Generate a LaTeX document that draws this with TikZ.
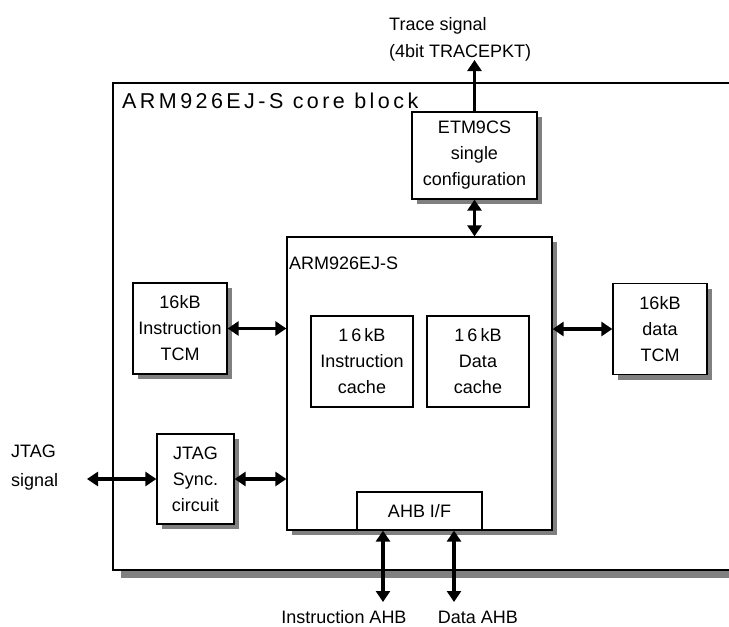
\documentclass[tikz,border=0pt]{standalone}
\usepackage{fontspec}
\setmainfont{Liberation Sans}
\usetikzlibrary{arrows.meta,shadows}

\begin{document}
\begin{tikzpicture}[x=1pt,y=-1pt,>={Triangle[length=11pt,width=14pt]},
    box/.style={draw,line width=1.3pt,fill=white,align=center,inner sep=0pt,
      font=\fontsize{18}{26}\selectfont},
    sbox/.style={box,drop shadow={shadow xshift=5pt,shadow yshift=-5pt,opacity=1,fill=black!50}},
    sig/.style={line width=3.2pt},
    lbl/.style={font=\fontsize{18}{27}\selectfont,inner sep=0pt}]
  \useasboundingbox (0,0) rectangle (729,627);
  \clip (0,0) rectangle (729,627);
  % the core block, open to the right
  \node[box,line width=1.8pt,minimum width=650pt,minimum height=487pt,
    drop shadow={shadow xshift=8pt,shadow yshift=-8pt,opacity=1,fill=black!50}] (core) at (438,326.5) {};
  \node[anchor=west,inner sep=0pt,font=\fontsize{21.5}{24}\selectfont\addfontfeature{LetterSpace=16}] (title) at (122,101) {ARM926EJ-S core block};
  % processor with its caches and bus interface
  \node[sbox,minimum width=265pt,minimum height=293pt] (arm) at (419.5,383.5) {};
  \node[lbl,anchor=west] (armlbl) at (289,263) {ARM926EJ-S};
  \node[box,minimum width=102pt,minimum height=91pt] (icache) at (362,361.5) {1\kern3pt 6\kern3pt kB\\Instruction\\cache};
  \node[box,minimum width=102pt,minimum height=91pt] (dcache) at (478,361.5) {1\kern3pt 6\kern3pt kB\\Data\\cache};
  \node[box,minimum width=125pt,minimum height=38pt] (ahb) at (419.5,511) {AHB I/F};
  % blocks round it
  \node[sbox,minimum width=125pt,minimum height=87pt] (etm) at (474.5,155.5) {ETM9CS\\single\\configuration};
  \node[sbox,minimum width=94pt,minimum height=91pt] (itcm) at (180,328.5) {16kB\\Instruction\\TCM};
  \node[sbox,minimum width=94pt,minimum height=91pt] (dtcm) at (660,329) {16kB\\data\\TCM};
  \node[sbox,minimum width=77pt,minimum height=90pt] (jtag) at (195.5,479) {JTAG\\Sync.\\circuit};
  % signals
  \coordinate (trace) at (474.5,60);
  \draw[sig,->] (etm.north) -- (trace);
  \node[lbl,anchor=west,align=left] (tracelbl) at (389,39.5) {Trace signal\\(4bit TRACEPKT)};
  \draw[sig,<->] (etm.south) -- (etm.south |- arm.north);
  \draw[sig,<->] (itcm.east) -- (itcm.east -| arm.west);
  \draw[sig,<->] (dtcm.west) -- (dtcm.west -| arm.east);
  \draw[sig,<->] (jtag.east) -- (jtag.east -| arm.west);
  \coordinate (jsig) at (87,479);
  \draw[sig,<->] (jsig) -- (jtag.west);
  \node[lbl,anchor=west,align=left,font=\fontsize{18}{29}\selectfont] (jsiglbl) at (11,468) {JTAG\\signal};
  \coordinate (ibus) at (383,602);
  \coordinate (dbus) at (454,602);
  \draw[sig,<->] (ibus |- ahb.south) -- (ibus);
  \draw[sig,<->] (dbus |- ahb.south) -- (dbus);
  \node[lbl] (ibuslbl) at (344,617) {Instruction AHB};
  \node[lbl] (dbuslbl) at (478,617) {Data AHB};
\end{tikzpicture}
\end{document}
